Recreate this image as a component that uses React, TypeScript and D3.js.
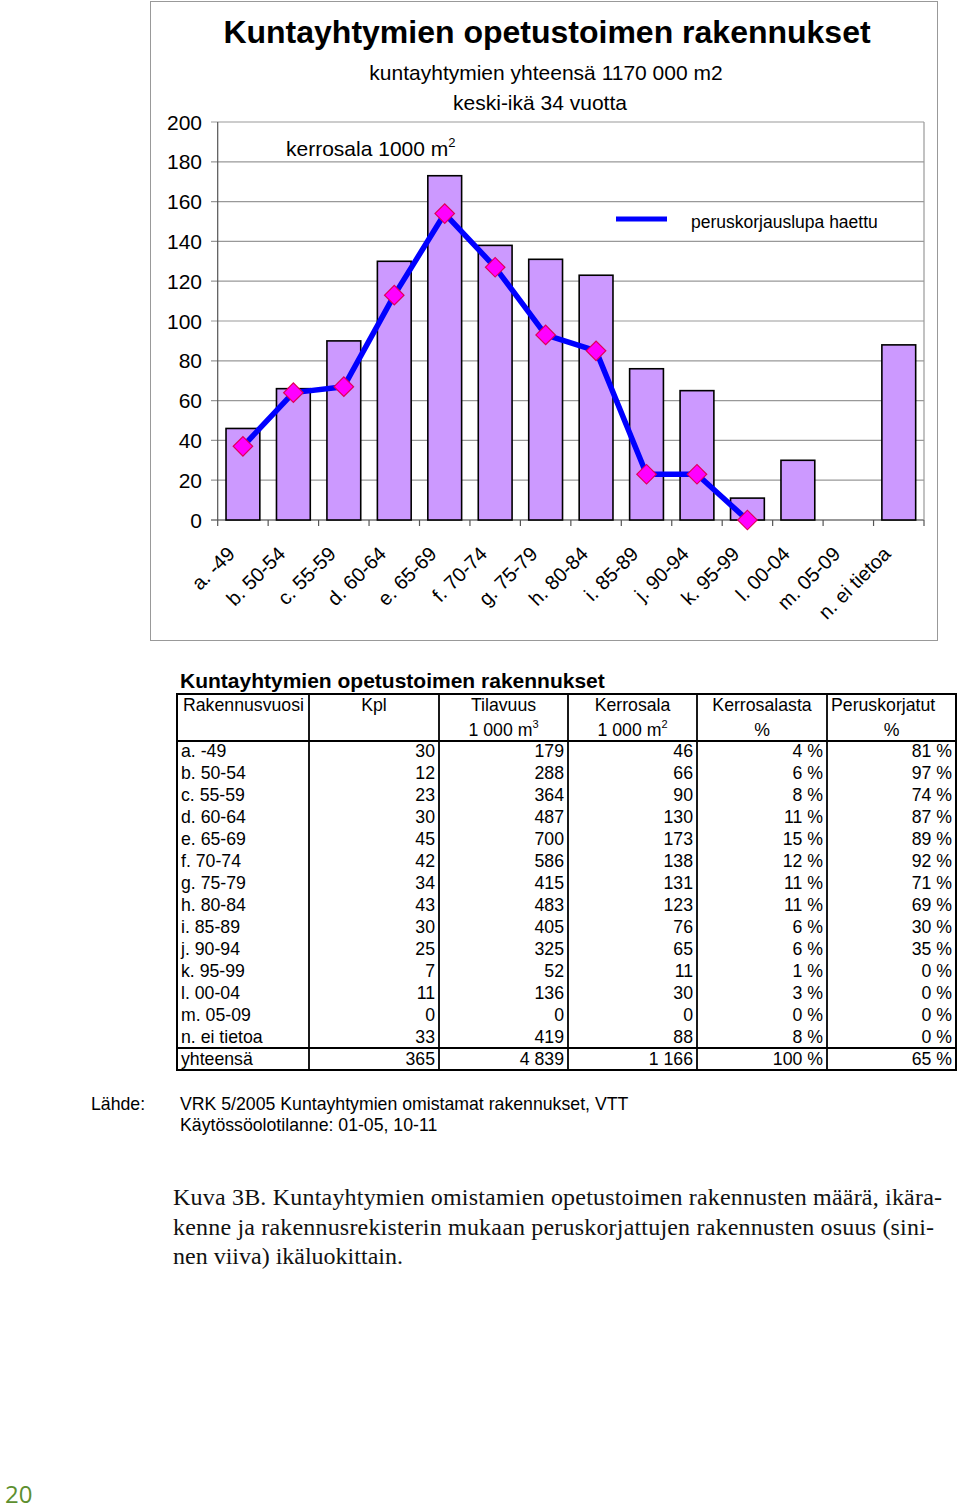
import React from 'react';
import * as d3 from 'd3';

// ikäluokat
const categories = [
  'a. -49', 'b. 50-54', 'c. 55-59', 'd. 60-64', 'e. 65-69', 'f. 70-74', 'g. 75-79',
  'h. 80-84', 'i. 85-89', 'j. 90-94', 'k. 95-99', 'l. 00-04', 'm. 05-09', 'n. ei tietoa',
];
// kerrosala 1000 m2 (pylväät)
const kerrosala = [46, 66, 90, 130, 173, 138, 131, 123, 76, 65, 11, 30, 0, 88];
// peruskorjauslupa haettu, 1000 m2 (viiva)
const peruskorjattu: (number | null)[] = [37, 64, 67, 113, 154, 127, 93, 85, 23, 23, 0, null, null, null];
const yTicks = [0, 20, 40, 60, 80, 100, 120, 140, 160, 180, 200];

// taulukko
const kpl = ['30', '12', '23', '30', '45', '42', '34', '43', '30', '25', '7', '11', '0', '33'];
const tilavuus = ['179', '288', '364', '487', '700', '586', '415', '483', '405', '325', '52', '136', '0', '419'];
const kerrosalaTxt = ['46', '66', '90', '130', '173', '138', '131', '123', '76', '65', '11', '30', '0', '88'];
const kerrosalaPct = ['4 %', '6 %', '8 %', '11 %', '15 %', '12 %', '11 %', '11 %', '6 %', '6 %', '1 %', '3 %', '0 %', '8 %'];
const peruskorjatutPct = ['81 %', '97 %', '74 %', '87 %', '89 %', '92 %', '71 %', '69 %', '30 %', '35 %', '0 %', '0 %', '0 %', '0 %'];
const totals = ['yhteensä', '365', '4 839', '1 166', '100 %', '65 %'];

const captionLines = [
  'Kuva 3B. Kuntayhtymien omistamien opetustoimen rakennusten määrä, ikära-',
  'kenne ja rakennusrekisterin mukaan peruskorjattujen rakennusten osuus (sini-',
  'nen viiva) ikäluokittain.',
];

const SANS = 'Liberation Sans, Arial, sans-serif';

export default function App() {
  const x = d3.scaleBand<string>().domain(categories).range([217.7, 924]).paddingInner(0.33).paddingOuter(0.165);
  const y = d3.scaleLinear().domain([0, 200]).range([520, 122]);
  const step = x.step();
  const bounds = d3.range(categories.length + 1).map(i => 217.7 + i * step);

  const line = d3.line<number | null>()
    .defined(d => d !== null)
    .x((_, i) => x(categories[i])! + x.bandwidth() / 2)
    .y(d => y(d as number));
  const diamond = d3.symbol().type(d3.symbolSquare).size(190)()!;

  // taulukon sarakkeet
  const cols = [177, 309, 439, 568, 697, 827, 956];
  const rowY = (i: number) => 757 + i * 22;
  const dataCols = [kpl, tilavuus, kerrosalaTxt, kerrosalaPct, peruskorjatutPct];

  return (
    <svg width={960} height={1511} style={{ position: 'absolute', left: 0, top: 0, display: 'block', background: '#fff' }}>
      {/* kaavion kehys */}
      <rect x={150.5} y={1.5} width={787} height={639} fill="#fff" stroke="#999" strokeWidth={1} />

      <text x={547} y={43} textAnchor="middle" fontFamily={SANS} fontWeight="bold" fontSize={32} fill="#000">
        Kuntayhtymien opetustoimen rakennukset
      </text>
      <text x={546} y={80} textAnchor="middle" fontFamily={SANS} fontSize={21}>kuntayhtymien yhteensä 1170 000 m2</text>
      <text x={540} y={110} textAnchor="middle" fontFamily={SANS} fontSize={21}>keski-ikä 34 vuotta</text>

      {/* ruudukko */}
      {yTicks.map(t => (
        <g key={t}>
          <line x1={211} x2={924} y1={y(t)} y2={y(t)} stroke={t === 0 ? '#333' : '#999'} strokeWidth={1.2} />
          <text x={202} y={y(t)} dy="0.36em" textAnchor="end" fontFamily={SANS} fontSize={21}>{t}</text>
        </g>
      ))}
      <line x1={924} x2={924} y1={y(200)} y2={y(0)} stroke="#999" strokeWidth={1.2} />
      <line x1={217.7} x2={217.7} y1={y(200)} y2={y(0)} stroke="#555" strokeWidth={1.2} />
      {bounds.map((b, i) => (
        <line key={i} x1={b} x2={b} y1={520} y2={526} stroke="#555" strokeWidth={1.2} />
      ))}

      <text x={286} y={156} fontFamily={SANS} fontSize={21}>
        kerrosala 1000 m<tspan fontSize={13} dy={-9}>2</tspan>
      </text>

      {/* pylväät */}
      {kerrosala.map((v, i) => v > 0 && (
        <rect key={i} x={x(categories[i])} y={y(v)} width={x.bandwidth()} height={y(0) - y(v)}
          fill="#cc99ff" stroke="#000" strokeWidth={1.6} />
      ))}

      {/* viiva */}
      <path d={line(peruskorjattu) || ''} fill="none" stroke="#0000ff" strokeWidth={5.5} strokeLinejoin="round" />
      {peruskorjattu.map((v, i) => v !== null && (
        <path key={i} d={diamond}
          transform={`translate(${x(categories[i])! + x.bandwidth() / 2},${y(v)}) rotate(45)`}
          fill="#ff00ff" stroke="#e0005a" strokeWidth={1.2} />
      ))}

      {/* selite */}
      <line x1={616} x2={667} y1={219} y2={219} stroke="#0000ff" strokeWidth={5} />
      <text x={691} y={228} fontFamily={SANS} fontSize={17.5}>peruskorjauslupa haettu</text>

      {/* x-akselin nimikkeet */}
      {categories.map(c => (
        <text key={c} transform={`translate(${x(c)! + x.bandwidth() / 2 - 17},545) rotate(-45)`}
          dy="0.72em" textAnchor="end" fontFamily={SANS} fontSize={20}>{c}</text>
      ))}

      {/* taulukko */}
      <text x={180} y={688} fontFamily={SANS} fontWeight="bold" fontSize={21}>Kuntayhtymien opetustoimen rakennukset</text>
      <g fontFamily={SANS} fontSize={17.7}>
        <text x={183} y={711}>Rakennusvuosi</text>
        <text x={(cols[1] + cols[2]) / 2} y={711} textAnchor="middle">Kpl</text>
        <text x={(cols[2] + cols[3]) / 2} y={711} textAnchor="middle">Tilavuus</text>
        <text x={(cols[3] + cols[4]) / 2} y={711} textAnchor="middle">Kerrosala</text>
        <text x={(cols[4] + cols[5]) / 2} y={711} textAnchor="middle">Kerrosalasta</text>
        <text x={cols[5] + 4} y={711}>Peruskorjatut</text>
        <text x={(cols[2] + cols[3]) / 2} y={736} textAnchor="middle">1 000 m<tspan fontSize={11} dy={-8}>3</tspan></text>
        <text x={(cols[3] + cols[4]) / 2} y={736} textAnchor="middle">1 000 m<tspan fontSize={11} dy={-8}>2</tspan></text>
        <text x={(cols[4] + cols[5]) / 2} y={736} textAnchor="middle">%</text>
        <text x={(cols[5] + cols[6]) / 2} y={736} textAnchor="middle">%</text>

        {categories.map((c, i) => (
          <g key={c}>
            <text x={181} y={rowY(i)}>{c}</text>
            {dataCols.map((col, j) => (
              <text key={j} x={cols[j + 2] - 4} y={rowY(i)} textAnchor="end">{col[i]}</text>
            ))}
          </g>
        ))}
        <text x={181} y={1065}>{totals[0]}</text>
        {totals.slice(1).map((t, j) => (
          <text key={j} x={cols[j + 2] - 4} y={1065} textAnchor="end">{t}</text>
        ))}

        <text x={91} y={1110}>Lähde:</text>
        <text x={180} y={1110}>VRK 5/2005 Kuntayhtymien omistamat rakennukset, VTT</text>
        <text x={180} y={1131}>Käytössöolotilanne: 01-05, 10-11</text>
      </g>
      <g stroke="#000" fill="none">
        <rect x={cols[0]} y={694} width={cols[6] - cols[0]} height={376} strokeWidth={2} />
        <line x1={cols[0]} x2={cols[6]} y1={741} y2={741} strokeWidth={2} />
        <line x1={cols[0]} x2={cols[6]} y1={1048} y2={1048} strokeWidth={2} />
        {cols.slice(1, 6).map(cx => (
          <line key={cx} x1={cx} x2={cx} y1={694} y2={1070} strokeWidth={1.8} />
        ))}
      </g>

      {/* kuvateksti */}
      <g fontFamily="Liberation Serif, Times New Roman, serif" fontSize={24} fill="#111">
        <text x={173} y={1205} textLength={769} lengthAdjust="spacing">{captionLines[0]}</text>
        <text x={173} y={1235} textLength={761} lengthAdjust="spacing">{captionLines[1]}</text>
        <text x={173} y={1264}>{captionLines[2]}</text>
      </g>

      <text x={5} y={1503} fontFamily="Open Sans, sans-serif" fontSize={24} fill="#5d8f2f">20</text>
    </svg>
  );
}
